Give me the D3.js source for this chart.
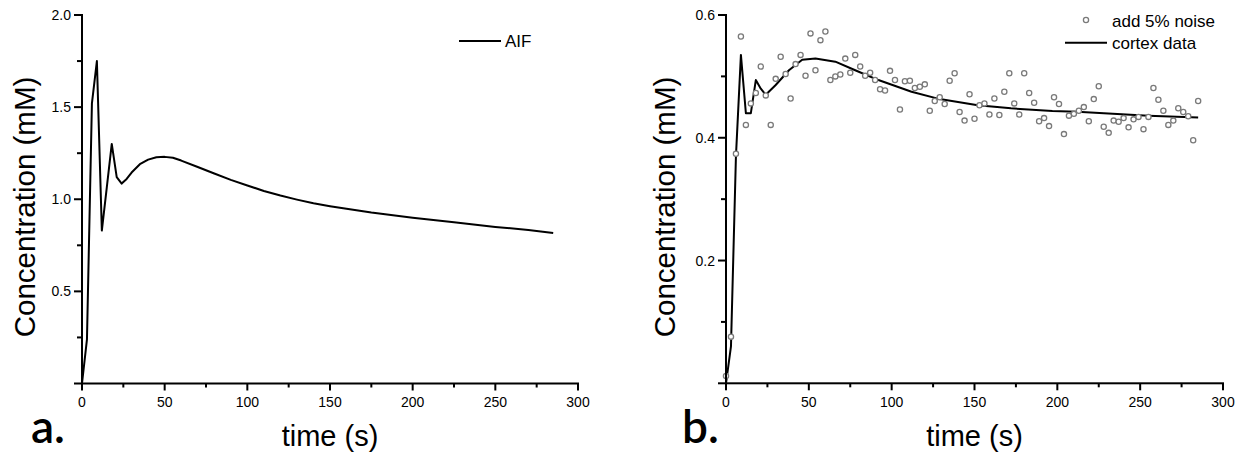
<!DOCTYPE html>
<html>
<head>
<meta charset="utf-8">
<script src="https://cdn.jsdelivr.net/npm/d3@7"></script>
<style>
 body { margin: 0; background: #fff; }
 svg text { font-family: "Liberation Sans", Arial, sans-serif; fill: #000; }
</style>
</head>
<body>
<div id="chart"></div>
<script>
// panel a: arterial input function
var aifTime = [0, 3, 6, 9, 12, 15, 18, 21, 24, 27, 30, 35, 40, 45, 50, 55, 60, 70, 80, 90, 100, 110, 120, 130, 140, 150, 160, 175, 200, 225, 250, 270, 285];
var aifConc = [0, 0.24, 1.52, 1.75, 0.83, 1.065, 1.30, 1.12, 1.085, 1.11, 1.145, 1.19, 1.215, 1.228, 1.23, 1.225, 1.21, 1.175, 1.14, 1.105, 1.075, 1.045, 1.02, 0.998, 0.978, 0.962, 0.948, 0.928, 0.9, 0.875, 0.85, 0.833, 0.817];

// panel b: cortex curve
var cortexTime = [0, 3, 6, 9, 12, 15, 18, 21, 24, 30, 38, 46, 54, 66, 78, 92, 112, 129, 152, 172, 197, 212, 255, 285];
var cortexConc = [0, 0.06, 0.37, 0.535, 0.44, 0.44, 0.494, 0.48, 0.47, 0.486, 0.51, 0.527, 0.529, 0.524, 0.51, 0.494, 0.475, 0.463, 0.453, 0.448, 0.4435, 0.4425, 0.436, 0.433];

// panel b: noisy samples (every 3 s)
var noiseTime = [0, 3, 6, 9, 12, 15, 18, 21, 24, 27, 30, 33, 36, 39, 42, 45, 48, 51, 54, 57, 60, 63, 66, 69, 72, 75, 78, 81, 84, 87, 90, 93, 96, 99, 102, 105, 108, 111, 114, 117, 120, 123, 126, 129, 132, 135, 138, 141, 144, 147, 150, 153, 156, 159, 162, 165, 168, 171, 174, 177, 180, 183, 186, 189, 192, 195, 198, 201, 204, 207, 210, 213, 216, 219, 222, 225, 228, 231, 234, 237, 240, 243, 246, 249, 252, 255, 258, 261, 264, 267, 270, 273, 276, 279, 282, 285];
var noiseConc = [0.012, 0.076, 0.374, 0.565, 0.421, 0.456, 0.473, 0.516, 0.469, 0.421, 0.496, 0.532, 0.504, 0.464, 0.520, 0.535, 0.501, 0.570, 0.510, 0.559, 0.573, 0.494, 0.500, 0.503, 0.529, 0.506, 0.535, 0.516, 0.501, 0.506, 0.494, 0.479, 0.477, 0.509, 0.494, 0.446, 0.492, 0.493, 0.481, 0.483, 0.487, 0.444, 0.460, 0.466, 0.455, 0.493, 0.505, 0.442, 0.428, 0.471, 0.431, 0.453, 0.456, 0.438, 0.464, 0.437, 0.475, 0.505, 0.456, 0.438, 0.505, 0.473, 0.457, 0.427, 0.432, 0.419, 0.466, 0.455, 0.406, 0.436, 0.439, 0.444, 0.450, 0.427, 0.463, 0.484, 0.418, 0.408, 0.428, 0.426, 0.432, 0.417, 0.430, 0.434, 0.414, 0.434, 0.481, 0.462, 0.444, 0.421, 0.428, 0.448, 0.442, 0.435, 0.396, 0.460];

var xMajor = [0, 50, 100, 150, 200, 250, 300];
var xMinor = [25, 75, 125, 175, 225, 275];
var yMajorA = [0, 0.5, 1.0, 1.5, 2.0];
var yMinorA = [0.25, 0.75, 1.25, 1.75];
var yMajorB = [0, 0.2, 0.4, 0.6];
var yMinorB = [0.1, 0.3, 0.5];

var w = 1243, h = 455;
var svg = d3.select("#chart").append("svg").attr("width", w).attr("height", h);

// axes as filled rects, positioned by the scales
function drawAxes(g, x, y, yMajor, yMinor) {
 var x0 = x.range()[0], x1 = x.range()[1], y0 = y.range()[0], y1 = y.range()[1];
 var fmt = d3.format(".1f"), t = 2;
 var ax = g.append("g").attr("class", "frame").attr("fill", "#000");
 ax.append("rect").attr("x", x0 - t / 2).attr("y", y0 - t / 2).attr("width", x1 - x0 + t).attr("height", t);
 ax.append("rect").attr("x", x0 - t / 2).attr("y", y1 - t / 2).attr("width", t).attr("height", y0 - y1 + t);
 ax.selectAll("rect.xt").data(xMajor.map(function (v) { return [v, 7]; }).concat(xMinor.map(function (v) { return [v, 4]; })))
  .enter().append("rect").attr("class", "xt")
  .attr("x", function (d) { return x(d[0]) - t / 2; }).attr("y", y0).attr("width", t).attr("height", function (d) { return d[1]; });
 ax.selectAll("rect.yt").data(yMajor.map(function (v) { return [v, 8]; }).concat(yMinor.map(function (v) { return [v, 5]; })))
  .enter().append("rect").attr("class", "yt")
  .attr("x", function (d) { return x0 - d[1]; }).attr("y", function (d) { return y(d[0]) - t / 2; })
  .attr("width", function (d) { return d[1]; }).attr("height", t);
 g.selectAll("text.xl").data(xMajor).enter().append("text").attr("class", "xl")
  .attr("x", function (v) { return x(v); }).attr("y", y0 + 23.5)
  .attr("text-anchor", "middle").style("font-size", "14px").text(function (v) { return v; });
 g.selectAll("text.yl").data(yMajor.filter(function (v) { return v !== 0; })).enter().append("text").attr("class", "yl")
  .attr("x", x0 - 11).attr("y", function (v) { return y(v); }).attr("dy", "0.36em")
  .attr("text-anchor", "end").style("font-size", "14px").text(function (v) { return fmt(v); });
}

function axisTitles(g, x, yTitleX, letter, letterX) {
 var cx = (x.range()[0] + x.range()[1]) / 2;
 g.append("text").attr("x", cx).attr("y", 446).attr("text-anchor", "middle")
  .style("font-size", "29px").text("time (s)");
 g.append("text").attr("transform", "translate(" + yTitleX + ",207) rotate(-90)")
  .attr("text-anchor", "middle").style("font-size", "29.5px").text("Concentration (mM)");
 g.append("text").attr("x", letterX).attr("y", 443).style("font-size", "46px")
  .style("font-family", "Lato, 'Open Sans', sans-serif").style("font-weight", 600).text(letter);
}

// ---- panel a
var xa = d3.scaleLinear().domain([0, 300]).range([82, 578]);
var ya = d3.scaleLinear().domain([0, 2]).range([383.5, 15]);
var ga = svg.append("g");
var lineA = d3.line().x(function (d, i) { return xa(aifTime[i]); }).y(function (d) { return ya(d); });
ga.append("path").datum(aifConc).attr("d", lineA).attr("fill", "none").attr("stroke", "#000").attr("stroke-width", 2).attr("stroke-linejoin", "round");
drawAxes(ga, xa, ya, yMajorA, yMinorA);
axisTitles(ga, xa, 35, "a.", 31);
ga.append("line").attr("x1", 459).attr("x2", 501).attr("y1", 41).attr("y2", 41).attr("stroke", "#000").attr("stroke-width", 2);
ga.append("text").attr("x", 505).attr("y", 47).style("font-size", "17px").text("AIF");

// ---- panel b
var xb = d3.scaleLinear().domain([0, 300]).range([726, 1223]);
var yb = d3.scaleLinear().domain([0, 0.6]).range([383.3, 15]);
var gb = svg.append("g");
var lineB = d3.line().x(function (d, i) { return xb(cortexTime[i]); }).y(function (d) { return yb(d); });
gb.append("path").datum(cortexConc).attr("d", lineB).attr("fill", "none").attr("stroke", "#000").attr("stroke-width", 2).attr("stroke-linejoin", "round");
gb.selectAll("circle.pt").data(noiseConc).enter().append("circle").attr("class", "pt")
 .attr("cx", function (d, i) { return xb(noiseTime[i]); })
 .attr("cy", function (d) { return yb(d); })
 .attr("r", 2.6).attr("fill", "#fff").attr("stroke", "#7a7a7a").attr("stroke-width", 1.3);
drawAxes(gb, xb, yb, yMajorB, yMinorB);
axisTitles(gb, xb, 675, "b.", 682);
gb.append("circle").attr("cx", 1086).attr("cy", 20).attr("r", 2.6).attr("fill", "#fff").attr("stroke", "#7a7a7a").attr("stroke-width", 1.3);
gb.append("text").attr("x", 1112).attr("y", 26.5).style("font-size", "17px").text("add 5% noise");
gb.append("line").attr("x1", 1065).attr("x2", 1107).attr("y1", 42.7).attr("y2", 42.7).attr("stroke", "#000").attr("stroke-width", 2);
gb.append("text").attr("x", 1112).attr("y", 49).style("font-size", "17px").text("cortex data");
</script>
</body>
</html>
